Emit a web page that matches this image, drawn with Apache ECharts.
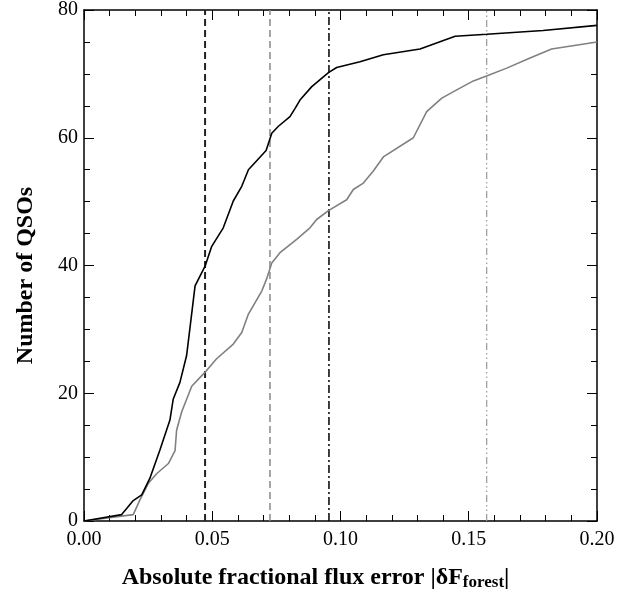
<!DOCTYPE html>
<html>
<head>
<meta charset="utf-8">
<script src="https://cdn.jsdelivr.net/npm/echarts@6/dist/echarts.min.js"></script>
<style>
html,body{margin:0;padding:0;background:#fff;}
#c{width:637px;height:597px;}
</style>
</head>
<body>
<div id="c"></div>
<script>
// Black cumulative curve (x = |dF|, y = number of QSOs)
const blackX = [0, 0.0147, 0.0192, 0.0225, 0.0257, 0.0296, 0.0335, 0.0348, 0.0374, 0.040, 0.0433, 0.0472, 0.0498, 0.0543, 0.0582, 0.0615, 0.0641, 0.0710, 0.0732, 0.0758, 0.0803, 0.0823, 0.0842, 0.0888, 0.0953, 0.0985, 0.1076, 0.1167, 0.131, 0.1447, 0.157, 0.179, 0.2];
const blackY = [0, 1.0, 3.2, 4.1, 6.7, 11.1, 15.8, 19.1, 21.7, 25.9, 36.8, 39.9, 43.0, 45.9, 50.1, 52.4, 55.0, 58.0, 60.7, 61.8, 63.3, 64.6, 65.9, 68.0, 70.2, 71.0, 71.9, 73.0, 73.9, 75.9, 76.2, 76.8, 77.6];
// Gray cumulative curve
const grayX = [0, 0.0192, 0.0218, 0.0251, 0.0283, 0.0329, 0.0355, 0.0361, 0.0381, 0.042, 0.0472, 0.0517, 0.0582, 0.0615, 0.0641, 0.0693, 0.0712, 0.0732, 0.0764, 0.0829, 0.0881, 0.0907, 0.0953, 0.1024, 0.1050, 0.1089, 0.1128, 0.1167, 0.1284, 0.1336, 0.1395, 0.1453, 0.1518, 0.1577, 0.1648, 0.1739, 0.1823, 0.2];
const grayY = [0, 1.0, 3.3, 5.9, 7.4, 9.0, 11.0, 14.2, 17.1, 21.1, 23.3, 25.4, 27.7, 29.5, 32.4, 36.0, 37.9, 40.4, 42.0, 44.1, 45.9, 47.2, 48.6, 50.3, 51.9, 52.9, 54.8, 57.0, 60.0, 64.1, 66.2, 67.5, 68.9, 69.8, 70.9, 72.5, 73.9, 75.0];
// Vertical reference lines
const vlineX = [0.0472, 0.0725, 0.0955, 0.157];
const xTicks = [0, 0.05, 0.10, 0.15, 0.20];
const yTicks = [0, 20, 40, 60, 80];

const FONT = '"Liberation Serif","DejaVu Serif",serif';
const zip = (xs, ys) => xs.map((x, i) => [x, ys[i]]);

const vStyles = [
  {color: '#222', width: 2, type: [7, 4]},
  {color: '#888', width: 1.5, type: [7, 4]},
  {color: '#000', width: 1.5, type: [8, 3, 2, 3]},
  {color: '#999', width: 1.2, type: [7, 3, 1.5, 3, 1.5, 3]}
];

function axisCommon(show) {
  return {
    axisLine: {show: true, onZero: false, lineStyle: {color: '#000', width: 1.5}},
    axisTick: {show: true, inside: true, length: 10, lineStyle: {color: '#000', width: 1}},
    minorTick: {show: true, length: 6, lineStyle: {color: '#000', width: 1}},
    splitLine: {show: false},
    axisLabel: {show: show, color: '#000', fontFamily: FONT, fontSize: 20}
  };
}

const chart = echarts.init(document.getElementById('c'), null, {renderer: 'canvas'});
const series = [];
vlineX.forEach((x, i) => {
  series.push({
    type: 'line', data: [[x, yTicks[0]], [x, yTicks[yTicks.length - 1]]],
    symbol: 'none', silent: true, lineStyle: vStyles[i], z: 1
  });
});
series.push({type: 'line', data: zip(grayX, grayY), symbol: 'none', lineStyle: {color: '#808080', width: 1.6}, z: 2});
series.push({type: 'line', data: zip(blackX, blackY), symbol: 'none', lineStyle: {color: '#000', width: 1.6}, z: 3});

const xa = axisCommon(true);
chart.setOption({
  animation: false,
  backgroundColor: '#fff',
  grid: {left: 84, right: 40, top: 8, bottom: 76},
  xAxis: [
    Object.assign({}, xa, {
      type: 'value', min: xTicks[0], max: xTicks[xTicks.length - 1], interval: 0.05,
      minorTick: Object.assign({}, xa.minorTick, {splitNumber: 5}),
      axisLabel: Object.assign({}, xa.axisLabel, {margin: 9, formatter: v => v.toFixed(2)}),
      name: '{b|Absolute fractional flux error |δF}{s|forest}{b||}',
      nameLocation: 'middle', nameGap: 44,
      nameTextStyle: {
        padding: [0, 50, 0, 0],
        rich: {
          b: {fontFamily: FONT, fontSize: 24, fontWeight: 'bold', color: '#000'},
          s: {fontFamily: FONT, fontSize: 17, fontWeight: 'bold', color: '#000', padding: [9, 0, 0, 0]}
        }
      }
    }),
    Object.assign({}, axisCommon(false), {
      type: 'value', position: 'top', min: 0, max: 0.2, interval: 0.05,
      minorTick: Object.assign({}, xa.minorTick, {splitNumber: 5})
    })
  ],
  yAxis: [
    Object.assign({}, axisCommon(true), {
      type: 'value', min: yTicks[0], max: yTicks[yTicks.length - 1], interval: 20,
      minorTick: Object.assign({}, xa.minorTick, {splitNumber: 4}),
      axisLabel: Object.assign({}, xa.axisLabel, {margin: 6}),
      name: 'Number of QSOs', nameLocation: 'middle', nameGap: 46,
      nameTextStyle: {fontFamily: FONT, fontSize: 24, fontWeight: 'bold', color: '#000', padding: [0, 20, 0, 0]}
    }),
    Object.assign({}, axisCommon(false), {
      type: 'value', position: 'right', min: 0, max: 80, interval: 20,
      minorTick: Object.assign({}, xa.minorTick, {splitNumber: 4})
    })
  ],
  series: series
});
</script>
</body>
</html>
